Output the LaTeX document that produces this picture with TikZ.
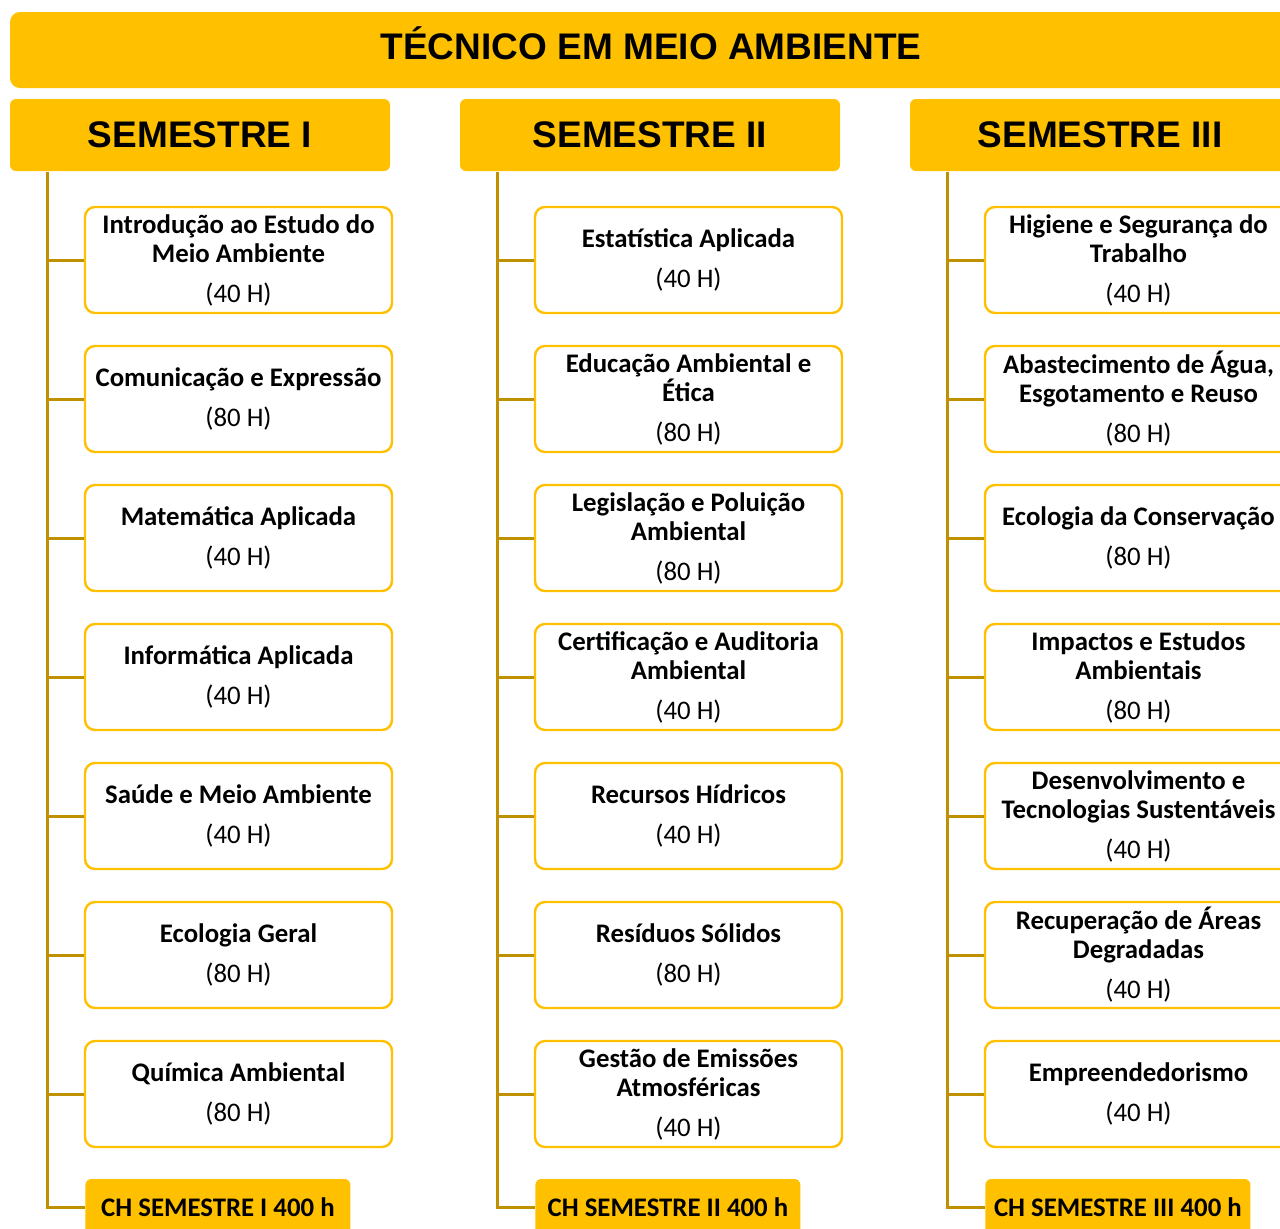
\documentclass[tikz,border=0pt]{standalone}
\usepackage{fontspec}
\setmainfont{Carlito}
\newfontfamily\headfont{Liberation Sans}
\definecolor{ouro}{HTML}{FFC000}
\definecolor{tronco}{HTML}{BF9000}
\tikzset{
  faixa/.style={fill=ouro, rounded corners=5pt, minimum width=641pt, minimum height=38pt,
    inner sep=0pt, text height=13.3pt, text depth=3.5pt,
    font=\headfont\fontsize{18.5}{22}\selectfont\bfseries},
  cabeca/.style={fill=ouro, rounded corners=3pt, minimum width=190pt, minimum height=36pt,
    inner sep=0pt, font=\headfont\fontsize{18.5}{22}\selectfont\bfseries},
  disc/.style={draw=ouro, fill=white, line width=1.2pt, rounded corners=5pt,
    minimum width=153.5pt, minimum height=53pt, inner sep=0pt, align=center,
    font=\fontsize{13.4}{14.5}\selectfont\bfseries},
  total/.style={fill=ouro, rounded corners=3pt, minimum width=132.5pt, minimum height=28pt,
    inner sep=0pt, anchor=west, font=\fontsize{13.4}{14.5}\selectfont\bfseries},
  galho/.style={draw=tronco, line width=1.5pt},
}
\begin{document}
\begin{tikzpicture}[x=0.5pt,y=-0.5pt]
\useasboundingbox (0,0) rectangle (1280,1228);
\clip (0,0) rectangle (1280,1228);

\node[faixa] (titulo) at (651,50) {TÉCNICO EM MEIO AMBIENTE};

% semestre I
\node[cabeca] (h1) at (200,135) {SEMESTRE I};
\coordinate (t1) at (47,172);
\foreach \t/\h [count=\i] in {{Introdução ao Estudo do\\Meio Ambiente}/40,
    {Comunicação e Expressão}/80, {Matemática Aplicada}/40, {Informática Aplicada}/40,
    {Saúde e Meio Ambiente}/40, {Ecologia Geral}/80, {Química Ambiental}/80} {
  \node[disc] (a\i) at (238.5,{260+139*(\i-1)}) {\t\\[5.5pt]\textmd{(\h\ H)}};
  \draw[galho] (t1 |- a\i.west) -- (a\i.west);
}
\node[total] (f1) at (85,1207) {CH SEMESTRE I 400 h};
\draw[galho] (t1) |- (f1.west);

% semestre II
\node[cabeca] (h2) at (650,135) {SEMESTRE II};
\coordinate (t2) at (497,172);
\foreach \t/\h [count=\i] in {{Estatística Aplicada}/40, {Educação Ambiental e\\Ética}/80,
    {Legislação e Poluição\\Ambiental}/80, {Certificação e Auditoria\\Ambiental}/40,
    {Recursos Hídricos}/40, {Resíduos Sólidos}/80, {Gestão de Emissões\\Atmosféricas}/40} {
  \node[disc] (b\i) at (688.5,{260+139*(\i-1)}) {\t\\[5.5pt]\textmd{(\h\ H)}};
  \draw[galho] (t2 |- b\i.west) -- (b\i.west);
}
\node[total] (f2) at (535,1207) {CH SEMESTRE II 400 h};
\draw[galho] (t2) |- (f2.west);

% semestre III
\node[cabeca] (h3) at (1100,135) {SEMESTRE III};
\coordinate (t3) at (947,172);
\foreach \t/\h [count=\i] in {{Higiene e Segurança do\\Trabalho}/40,
    {Abastecimento de Água,\\Esgotamento e Reuso}/80, {Ecologia da Conservação}/80,
    {Impactos e Estudos\\Ambientais}/80, {Desenvolvimento e\\Tecnologias Sustentáveis}/40,
    {Recuperação de Áreas\\Degradadas}/40, {Empreendedorismo}/40} {
  \node[disc] (c\i) at (1138.5,{260+139*(\i-1)}) {\t\\[5.5pt]\textmd{(\h\ H)}};
  \draw[galho] (t3 |- c\i.west) -- (c\i.west);
}
\node[total] (f3) at (985,1207) {CH SEMESTRE III 400 h};
\draw[galho] (t3) |- (f3.west);
\end{tikzpicture}
\end{document}
